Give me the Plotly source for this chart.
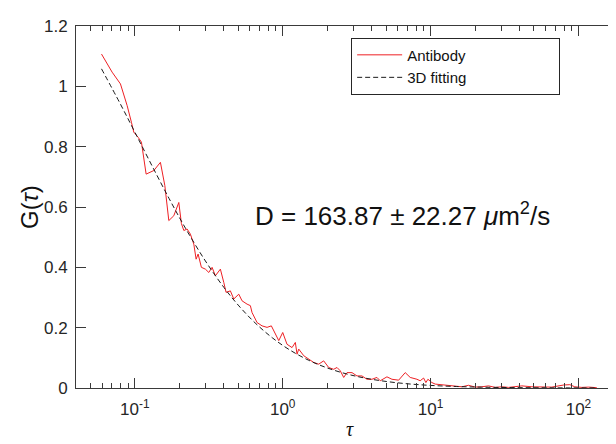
import plotly.graph_objects as go

# Antibody autocorrelation
tau_ab = [0.0595, 0.0702, 0.0799, 0.0887, 0.0948, 0.0984, 0.1053, 0.1108, 0.1192, 0.1344,
          0.1489, 0.1595, 0.1697, 0.1834, 0.1983, 0.2065, 0.2144, 0.2256, 0.2375, 0.2504,
          0.2596, 0.2678, 0.2818, 0.2999, 0.3162, 0.3329, 0.3505, 0.3788, 0.3994, 0.4139,
          0.4425, 0.4666, 0.5043, 0.5309, 0.5739, 0.6041, 0.6203, 0.6707, 0.7248, 0.7834,
          0.8375, 0.891, 0.940, 1.0, 1.069, 1.156, 1.217, 1.250, 1.283, 1.387,
          1.499, 1.620, 1.751, 1.892, 2.046, 2.211, 2.328, 2.450, 2.584, 2.720,
          2.940, 3.177, 3.434, 3.712, 4.012, 4.337, 4.565, 5.067, 5.476, 6.078,
          6.736, 7.281, 8.08, 8.50, 8.97, 9.29, 9.59, 10.2, 10.74, 11.92,
          13.23, 14.66, 16.27, 18.06, 20.02, 22.21, 24.66, 27.33, 30.33, 33.65,
          37.3, 41.4, 48.4, 53.7, 66.0, 79.6, 87.4, 94.4, 105.3, 117.4, 132.9]
g_ab = [1.107, 1.047, 1.008, 0.936, 0.881, 0.848, 0.831, 0.815, 0.709, 0.721,
        0.748, 0.671, 0.555, 0.571, 0.615, 0.545, 0.522, 0.527, 0.510, 0.477,
        0.427, 0.444, 0.400, 0.394, 0.383, 0.400, 0.372, 0.394, 0.350, 0.317,
        0.322, 0.295, 0.311, 0.289, 0.278, 0.273, 0.250, 0.217, 0.206, 0.201,
        0.206, 0.178, 0.157, 0.184, 0.145, 0.134, 0.151, 0.112, 0.129, 0.107,
        0.0955, 0.0846, 0.079, 0.090, 0.068, 0.062, 0.068, 0.057, 0.035, 0.051,
        0.051, 0.040, 0.040, 0.029, 0.029, 0.035, 0.024, 0.037, 0.029, 0.026,
        0.051, 0.035, 0.029, 0.024, 0.033, 0.018, 0.029, 0.018, 0.013, 0.011,
        0.0095, 0.007, 0.004, 0.009, 0.003, 0.004, 0.007, 0.002, 0.004, 0.002,
        0.004, 0.007, 0.004, 0.004, 0.003, 0.010, 0.011, 0.004, 0.002, 0.003, 0.001]

# 3D fitting curve
tau_fit = [0.0595, 0.08, 0.1, 0.13, 0.17, 0.22, 0.3, 0.4, 0.5, 0.65, 0.85, 1.1, 1.5, 2, 2.7,
           3.6, 5, 7, 10, 15, 22, 35, 55, 85, 133]
g_fit = [1.058, 0.9405, 0.8481, 0.7386, 0.6291, 0.5296, 0.4211, 0.3335, 0.2748, 0.2160,
         0.1665, 0.1280, 0.0918, 0.0665, 0.0467, 0.0329, 0.0217, 0.0139, 0.0086, 0.0049,
         0.0028, 0.00145, 0.00075, 0.00039, 0.0002]

x_tickvals = [0.1, 1, 10, 100]
x_ticktext = ["10<sup>-1</sup>", "10<sup>0</sup>", "10<sup>1</sup>", "10<sup>2</sup>"]
minor_vals = [m * d for d in (0.01, 0.1, 1, 10) for m in range(2, 10) if 0.04 <= m * d <= 200]

PAD = "\u00a0" * 21
AX = "#3a3a3a"
fig = go.Figure()
fig.add_trace(go.Scatter(x=tau_ab, y=g_ab, mode="lines", name="Antibody" + PAD,
                         line=dict(color="rgb(238,32,36)", width=1)))
fig.add_trace(go.Scatter(x=tau_fit, y=g_fit, mode="lines", name="3D fitting" + PAD,
                         line=dict(color="#1a1a1a", width=1, dash="5px,3px"),
                         line_shape="spline"))

fig.update_layout(
    width=616, height=444,
    margin=dict(l=68, r=1, t=18, b=64),
    paper_bgcolor="white", plot_bgcolor="white",
    font=dict(family="Liberation Sans, Arial, sans-serif", color="#262626"),
    showlegend=True,
    legend=dict(x=0.503, y=0.968, xanchor="left", yanchor="top",
                bgcolor="white", bordercolor="#262626", borderwidth=1,
                font=dict(size=15, color="#111"), tracegroupgap=0,
                itemwidth=45),
    xaxis=dict(type="log", range=[-1.39794, 2.30103],
               tickvals=x_tickvals, ticktext=x_ticktext,
               ticks="inside", ticklen=10, tickcolor=AX, tickwidth=1,
               showline=True, linecolor=AX, linewidth=1, mirror="ticks",
               showgrid=False, zeroline=False,
               tickfont=dict(size=17, color="#262626"),
               ticklabelstandoff=6,
               minor=dict(tickvals=minor_vals, ticks="inside", ticklen=5,
                          tickcolor=AX, showgrid=False)),
    yaxis=dict(range=[0, 1.2], dtick=0.2, tick0=0,
               ticks="inside", ticklen=10, tickcolor=AX, tickwidth=1,
               showline=True, linecolor=AX, linewidth=1, mirror="ticks",
               showgrid=False, zeroline=False, ticklabelstandoff=4,
               tickfont=dict(size=17, color="#262626")),
)

fig.add_annotation(text="D = 163.87 ± 22.27 <i>μ</i>m<sup>2</sup>/s",
                   xref="paper", yref="paper", x=0.3236, y=0.479,
                   xanchor="left", yanchor="middle", showarrow=False,
                   font=dict(size=26, color="#111"))
fig.add_annotation(text="G(<i>τ</i>)", xref="paper", yref="paper",
                   x=-0.086, y=0.5, xanchor="center", yanchor="middle",
                   textangle=-90, showarrow=False,
                   font=dict(size=24, color="#111"))
fig.add_annotation(text="<i>τ</i>", xref="paper", yref="paper",
                   x=0.5, y=-0.112, xanchor="center", yanchor="middle",
                   showarrow=False,
                   font=dict(size=20, family="Liberation Serif, serif", color="#111"))

fig.write_html("out.html")
